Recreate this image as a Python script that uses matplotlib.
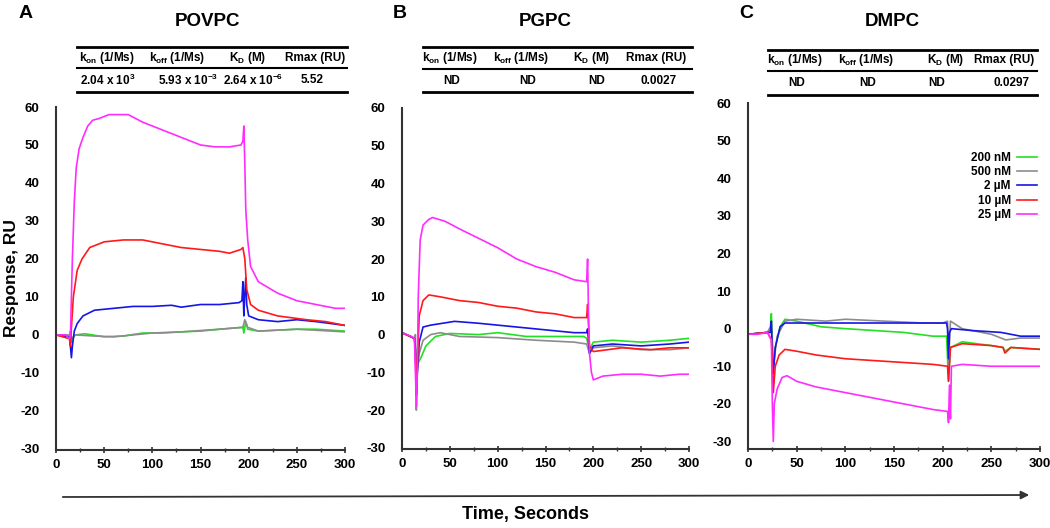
import matplotlib
matplotlib.use("Agg")
import matplotlib.pyplot as plt
from matplotlib.lines import Line2D
import numpy as np

plt.rcParams['font.family'] = ['Liberation Sans', 'DejaVu Sans']
plt.rcParams['font.weight'] = 'bold'
plt.rcParams['axes.unicode_minus'] = False
plt.rcParams['mathtext.fontset'] = 'custom'
plt.rcParams['mathtext.rm'] = 'Liberation Sans:bold'
plt.rcParams['mathtext.it'] = 'Liberation Sans:bold'
plt.rcParams['mathtext.bf'] = 'Liberation Sans:bold'

# concentrations and colours
labels = ["200 nM", "500 nM", "2 µM", "10 µM", "25 µM"]
colors = ["#22e022", "#8c8c8c", "#1515e8", "#ff1a1a", "#ff2cff"]

# ---- POVPC (seconds / RU) ----
povpc_200nM = [(0, 0), (14, -0.5), (15, 1), (16, -2), (17, -1), (20, 0), (30, 0.3), (50, -0.5), (70, -0.3),
               (90, 0.5), (110, 0.5), (130, 0.8), (150, 1), (170, 1.5), (194, 2), (195, 0.5), (197, 3.5),
               (199, 1.5), (210, 1), (250, 1.5), (270, 1.5), (300, 1)]
povpc_500nM = [(0, 0), (14, 0), (16, -1), (20, 0), (40, -0.3), (60, -0.5), (80, 0), (100, 0.5), (130, 0.8),
               (170, 1.5), (194, 2), (196, 4), (199, 2), (210, 1), (250, 1.5), (300, 0.8)]
povpc_2uM = [(0, 0), (14, -0.5), (15, -3), (16, -6), (17, -3), (19, 1), (22, 3), (28, 5), (40, 6.5), (60, 7),
             (80, 7.5), (100, 7.5), (120, 7.8), (130, 7.3), (150, 8), (170, 8), (190, 8.5), (193, 9), (194, 14),
             (195, 5), (196, 11), (197, 15), (198, 8), (200, 5), (210, 4), (230, 3.5), (250, 4), (270, 3.5),
             (300, 2.5)]
povpc_10uM = [(0, 0), (14, -1), (15, -3), (16, 2), (18, 10), (22, 17), (27, 20), (35, 23), (50, 24.5), (70, 25),
              (90, 25), (110, 24), (130, 23), (150, 22.5), (170, 22), (180, 21.5), (192, 22.5), (194, 23),
              (196, 20), (198, 12), (202, 8), (210, 6.5), (230, 5), (260, 4), (280, 3.5), (300, 2.5)]
povpc_25uM = [(0, 0), (10, 0), (14, -1), (15, 0), (17, 20), (19, 35), (21, 44), (24, 49), (28, 52), (33, 55),
              (38, 56.5), (45, 57), (55, 58), (75, 58), (90, 56), (110, 54), (130, 52), (150, 50), (165, 49.5),
              (180, 49.5), (192, 50), (194, 51), (195, 55), (196, 45), (197, 33), (199, 25), (202, 18), (210, 14),
              (230, 11), (250, 9), (270, 8), (290, 7), (300, 7)]

# ---- PGPC ----
pgpc_200nM = [(0, 0.5), (13, -1), (14, -3), (16, -8), (20, -6), (25, -3), (35, -0.5), (50, 0.3), (80, 0),
              (100, 0.5), (130, -0.5), (160, -0.5), (190, -0.5), (193, -1), (196, -4), (200, -2), (220, -1.5),
              (250, -2), (280, -1.5), (300, -1)]
pgpc_500nM = [(0, 0.5), (13, -1), (14, 0), (15, -20), (16, -10), (18, -5), (22, -1.5), (30, 0), (40, 0.5),
              (60, -0.5), (100, -0.8), (140, -1.5), (180, -2), (193, -2.5), (196, -5), (200, -3.5), (220, -3),
              (250, -4), (280, -4), (300, -3.5)]
pgpc_2uM = [(0, 0.5), (13, -1), (14, -4), (15, -16), (16, -10), (18, -2), (22, 2), (30, 2.5), (55, 3.5), (80, 3),
            (100, 2.5), (120, 2), (140, 1.5), (160, 1), (180, 0.5), (193, 0.5), (194, 1.5), (196, -5), (200, -3),
            (220, -2.5), (250, -3), (280, -2.5), (300, -2)]
pgpc_10uM = [(0, 0.5), (13, -1), (14, -5), (15, -14), (16, -8), (18, 5), (22, 9), (28, 10.5), (40, 10), (60, 9),
             (80, 8.5), (100, 7.5), (120, 7), (140, 6), (160, 5.5), (180, 4.5), (193, 4.5), (194, 8), (196, -3),
             (200, -4.5), (215, -4), (230, -3.5), (260, -4), (280, -3.5), (300, -3.5)]
pgpc_25uM = [(0, 0.5), (10, -0.5), (13, -1), (14, -10), (15, -19), (16, -10), (17, 10), (19, 25), (22, 29),
             (28, 30.5), (32, 31), (45, 30), (60, 28), (80, 25.5), (100, 23), (120, 20), (140, 18), (160, 16.5),
             (180, 14.5), (193, 14), (194, 20), (195, 5), (196, -5), (198, -10), (200, -12), (210, -11),
             (230, -10.5), (250, -10.5), (270, -11), (290, -10.5), (300, -10.5)]

# ---- DMPC ----
dmpc_200nM = [(0, -1.5), (20, -1), (23, 0), (24, 4), (25, -3), (26, -10), (28, -5), (33, 0.5), (38, 2.5),
              (50, 2), (75, 0.5), (100, 0), (130, -0.5), (160, -1), (190, -2), (204, -2), (206, -14), (208, -5),
              (220, -3.5), (250, -4.5), (262, -5), (264, -6), (270, -5), (300, -5.5)]
dmpc_500nM = [(0, -1.5), (20, -1), (24, 1), (26, -10), (30, -2), (38, 2), (50, 2.5), (80, 2), (100, 2.5),
              (140, 2), (180, 1.5), (200, 1.5), (205, 2), (206, -10), (208, 2), (220, 0), (250, -1.5), (265, -3),
              (280, -2.5), (300, -2.5)]
dmpc_2uM = [(0, -1.5), (20, -1), (23, -1), (24, 2), (25, -8), (26, -12), (28, -5), (33, 0.5), (38, 1.5),
            (60, 1.5), (100, 1.5), (140, 1.5), (180, 1.5), (204, 1.5), (205, 0), (206, -8), (207, -1), (209, 0),
            (230, -0.5), (260, -1), (280, -2), (300, -2)]
dmpc_10uM = [(0, -1.5), (20, -1), (24, -3), (25, -8), (26, -17), (28, -10), (32, -7), (38, -5.5), (50, -6),
             (70, -7), (100, -8), (130, -8.5), (160, -9), (190, -9.5), (205, -10), (206, -14), (208, -5),
             (220, -4), (250, -4.5), (262, -5), (264, -6.5), (270, -5), (300, -5.5)]
dmpc_25uM = [(0, -1.5), (10, -1.5), (20, -1), (24, -3), (25, -20), (26, -30), (27, -20), (30, -16), (35, -13),
             (40, -12.5), (50, -14), (70, -15.5), (100, -17), (130, -18.5), (160, -20), (190, -21.5), (205, -22),
             (206, -25), (207, -15), (208, -24), (209, -10), (220, -9.5), (250, -10), (270, -10), (300, -10)]

titles = ["POVPC", "PGPC", "DMPC"]
letters = ["A", "B", "C"]
curves = [[povpc_200nM, povpc_500nM, povpc_2uM, povpc_10uM, povpc_25uM],
          [pgpc_200nM, pgpc_500nM, pgpc_2uM, pgpc_10uM, pgpc_25uM],
          [dmpc_200nM, dmpc_500nM, dmpc_2uM, dmpc_10uM, dmpc_25uM]]

# kinetics tables
headers = [r"k$_{on}$ (1/Ms)", r"k$_{off}$ (1/Ms)", r"K$_{D}$ (M)", "Rmax (RU)"]
povpc_vals = [r"2.04 x 10$^{3}$", r"5.93 x 10$^{-3}$", r"2.64 x 10$^{-6}$", "5.52"]
pgpc_vals = ["ND", "ND", "ND", "0.0027"]
dmpc_vals = ["ND", "ND", "ND", "0.0297"]
table_vals = [povpc_vals, pgpc_vals, dmpc_vals]

W, H = 1050, 528
fig = plt.figure(figsize=(W / 100, H / 100), dpi=100)

# axes boxes in pixels: left, right, top(60), bottom
boxes = [(56, 345, 107, 450), (402, 689, 108, 449), (748, 1040, 103, 449)]
ylims = [(-30.3, 60), (-30.3, 60), (-32, 60)]
# table layout in pixels
tab_x = [(77, 347), (423, 692), (768, 1037)]
tab_y = [(47, 68, 92), (47, 69, 92), (50, 71, 95)]
col_hdr = [[107, 177, 248, 315], [450, 521, 592, 656], [795, 866, 946, 1004]]
col_val = [[108, 188, 253, 312], [452, 528, 597, 659], [797, 868, 937, 1011]]
title_x = [207, 545, 892]
letter_x = [26, 400, 746]


def fx(px):
    return px / W


def fy(py):
    return 1 - py / H


axes = []
for i in range(3):
    l, r, t, b = boxes[i]
    ax = fig.add_axes([fx(l), fy(b), (r - l) / W, (b - t) / H])
    for k, c in enumerate(curves[i]):
        arr = np.array(c)
        ax.plot(arr[:, 0], arr[:, 1], color=colors[k], lw=1.2, label=labels[k])
    ax.set_xlim(0, 300)
    ax.set_ylim(*ylims[i])
    ax.set_xticks(np.arange(0, 301, 50))
    ax.set_xticks(np.arange(0, 301, 25), minor=True)
    ax.set_yticks(np.arange(-30, 61, 10))
    ax.spines['top'].set_visible(False)
    ax.spines['right'].set_visible(False)
    for s in ['left', 'bottom']:
        ax.spines[s].set_color('#333333')
        ax.spines[s].set_linewidth(1.5)
    ax.tick_params(axis='x', which='major', direction='inout', length=5, width=1.2, color='#333333',
                   labelsize=9.5, pad=4)
    ax.tick_params(axis='x', which='minor', direction='inout', length=3, width=1, color='#333333')
    ax.tick_params(axis='y', length=0, labelsize=9.5, pad=12)
    for lab in ax.get_xticklabels() + ax.get_yticklabels():
        lab.set_fontweight('bold')
    axes.append(ax)

    # titles and panel letters
    fig.text(fx(title_x[i]), fy(22), titles[i], ha='center', va='center', fontsize=13.5, fontweight='bold')
    fig.text(fx(letter_x[i]), fy(13), letters[i], ha='center', va='center', fontsize=14, fontweight='bold')

    # table
    x0, x1 = tab_x[i]
    for j, yy in enumerate(tab_y[i]):
        fig.add_artist(Line2D([fx(x0), fx(x1)], [fy(yy), fy(yy)], color='black',
                              lw=2.0 if j != 1 else 1.5, transform=fig.transFigure))
    hy = (tab_y[i][0] + tab_y[i][1]) / 2
    vy = (tab_y[i][1] + tab_y[i][2]) / 2
    for j in range(4):
        fig.text(fx(col_hdr[i][j]), fy(hy), headers[j], ha='center', va='center', fontsize=8.5,
                 fontweight='bold')
        fig.text(fx(col_val[i][j]), fy(vy), table_vals[i][j], ha='center', va='center', fontsize=8.5,
                 fontweight='bold')

# legend in panel C
leg = axes[2].legend(loc='upper right', bbox_to_anchor=(1.025, 0.89), frameon=False, markerfirst=False,
                     handlelength=1.7, handletextpad=0.5, labelspacing=0.2,
                     prop={'weight': 'bold', 'size': 8.5})

# y label and time arrow
fig.text(fx(12), fy(278), "Response, RU", rotation=90, ha='center', va='center', fontsize=12.5, fontweight='bold')
fig.add_artist(matplotlib.patches.FancyArrowPatch((fx(60), fy(497)), (fx(1032), fy(495)),
                                                  transform=fig.transFigure, arrowstyle='-|>',
                                                  mutation_scale=12, color='#333333', lw=1.3))
fig.text(fx(525), fy(515), "Time, Seconds", ha='center', va='center', fontsize=13, fontweight='bold')

fig.savefig("out.png", dpi=100)
